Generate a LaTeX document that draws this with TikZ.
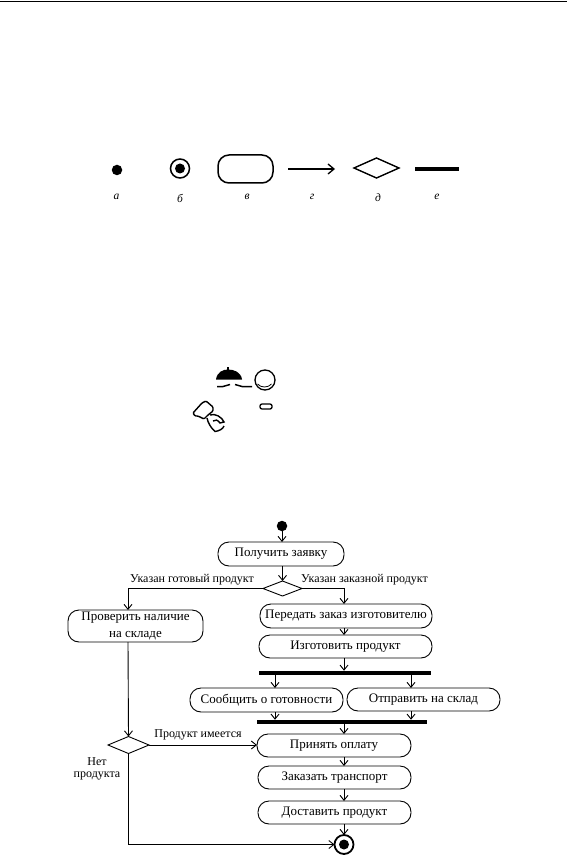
\documentclass[tikz,border=0pt]{standalone}
\usepackage{fontspec}
\setmainfont{Liberation Serif}
\usetikzlibrary{arrows.meta,shapes.geometric,calc}
\tikzset{
  x=1pt,y=-1pt,
  box/.style={draw,line width=0.9pt,rounded corners=11pt,inner sep=0pt,outer sep=0pt,align=center,font=\fontsize{13}{17}\selectfont},
  dec/.style={draw,diamond,aspect=2.4,line width=0.9pt,inner sep=0pt,outer sep=0pt},
  hbar/.style={fill=black,inner sep=0pt,outer sep=0pt},
  startdot/.style={circle,fill=black,inner sep=0pt,outer sep=0pt,minimum size=10.5pt},
  enddot/.style={circle,draw,line width=1.8pt,inner sep=0pt,outer sep=0pt,minimum size=19pt,path picture={\fill (path picture bounding box.center) circle (5pt);}},
  arr/.style={line width=0.9pt,-{Straight Barb[length=5pt,width=8pt,line width=0.9pt]}},
  lab/.style={font=\fontsize{12}{12.5}\selectfont,inner sep=0pt,align=center},
  captxt/.style={font=\fontsize{11.5}{12}\itshape\selectfont,inner sep=0pt}
}
\begin{document}
\begin{tikzpicture}
\useasboundingbox (0,0) rectangle (567,858);
\fill[white] (0,0) rectangle (567,858);
\draw[line width=0.9pt] (0,1) -- (567,1);
% legend
\node[startdot] (la) at (117,170) {};
\node[enddot,minimum size=19pt,line width=1.5pt] (lb) at (180,168.5) {};
\node[draw,line width=1.5pt,rounded corners=11pt,minimum width=55pt,minimum height=28pt,inner sep=0,outer sep=0] (lc) at (245.5,169) {};
\coordinate (lds) at (288,169);
\coordinate (lde) at (335,169);
\draw[line width=1.3pt,-{Straight Barb[length=6pt,width=10pt,line width=1.3pt]}] (lds) -- (lde);
\node[draw,diamond,aspect=2.25,line width=1.4pt,minimum width=45pt,minimum height=20pt,inner sep=0,outer sep=0] (le) at (376.5,168) {};
\node[hbar,minimum width=44pt,minimum height=3.5pt] (lf) at (437,169) {};
\node[captxt] (ca) at (116.5,197) {а};
\node[captxt] (cb) at (180,198) {б};
\node[captxt] (cc) at (247,197) {в};
\node[captxt] (cd) at (312,197) {г};
\node[captxt] (ce) at (378,198) {д};
\node[captxt] (cf) at (437,197) {е};
% pictograms
\fill (216,379.5) .. controls (217,372) and (223,369.5) .. (228,369.5) .. controls (234,369.5) and (241,372) .. (242,379.5) -- cycle;
\draw[line width=1.1pt] (228,370) -- (228,366.5);
\draw[line width=1.5pt] (217,386.5) -- (223,386.5) .. controls (226,386.5) and (227,384.5) .. (230,384.5);
\draw[line width=1.5pt] (252,386.5) -- (242,386.5) .. controls (239,386.5) and (238,384.5) .. (235,384.5);
\draw[line width=1.3pt] (265,380) circle (10);
\draw[line width=0.8pt] (257.5,384) .. controls (261,388) and (268,388) .. (271.5,384);
\draw[line width=1.3pt,rounded corners=2pt] (260,404) rectangle (272,409);
\draw[line width=1.4pt,rounded corners=1pt] (193,413) -- (202,403) -- (206,401) -- (213,407) -- (213,411) -- (208,415) -- (204,419) -- (200,417) -- (198,416) -- (195,416) -- cycle;
\draw[line width=1.4pt] (210,415) .. controls (215,413) and (222,417) .. (224,422) -- (220,423) .. controls (218,420) and (215,419) .. (213,421);
\draw[line width=1.4pt] (207,418) .. controls (208,423) and (211,428) .. (215,431.5) .. controls (219,431) and (223,429) .. (224,426);
% flowchart
\coordinate (colR) at (344,0);
\coordinate (colA) at (275,0);
\coordinate (colB) at (411,0);
\coordinate (colL) at (128,0);
\node[startdot] (st) at (282,526) {};
\node[box,minimum width=126pt,minimum height=24pt] (get) at (281,554) {Получить заявку};
\node[dec,minimum width=39pt,minimum height=15pt] (d1) at (282.5,588.5) {};
\node[box,minimum width=135pt,minimum height=32pt] (chk) at (135.5,626) {Проверить наличие\\на складе};
\node[box,minimum width=172pt,minimum height=24pt] (ord) at (346,616) {Передать заказ изготовителю};
\node[box,minimum width=173pt,minimum height=23pt] (mak) at (345.5,646.5) {Изготовить продукт};
\node[hbar,minimum width=172pt,minimum height=4.5pt] (b1) at (345,673) {};
\node[box,minimum width=153pt,minimum height=24pt] (say) at (266.5,700) {Сообщить о готовности};
\node[box,minimum width=153pt,minimum height=23pt] (snd) at (423.5,699.5) {Отправить на склад};
\node[hbar,minimum width=170pt,minimum height=4.5pt] (b2) at (342,722) {};
\node[box,minimum width=154pt,minimum height=23pt] (pay) at (334,745.5) {Принять оплату};
\node[box,minimum width=153pt,minimum height=23pt] (trn) at (334.5,777.5) {Заказать транспорт};
\node[box,minimum width=153pt,minimum height=23pt] (del) at (334.5,812.5) {Доставить продукт};
\node[dec,minimum width=41pt,minimum height=17pt] (d2) at (128.5,745) {};
\node[enddot] (en) at (344,844.5) {};
% connectors
\draw[arr] (st) -- (st |- get.north);
\draw[arr] (get.south -| d1.north) -- (d1.north);
\draw[arr] (d1.west) -| (chk.north -| colL);
\draw[arr] (d1.east) -| (ord.north -| colR);
\draw[arr] (ord.south -| colR) -- (mak.north -| colR);
\draw[arr] (mak.south -| colR) -- (b1.north -| colR);
\draw[arr] (b1.south -| colA) -- (say.north -| colA);
\draw[arr] (b1.south -| colB) -- (snd.north -| colB);
\draw[arr] (say.south -| colA) -- (b2.north -| colA);
\draw[arr] (snd.south -| colB) -- (b2.north -| colB);
\draw[arr] (b2.south -| colR) -- (pay.north -| colR);
\draw[arr] (pay.south -| colR) -- (trn.north -| colR);
\draw[arr] (trn.south -| colR) -- (del.north -| colR);
\draw[arr] (del.south -| colR) -- (en.north);
\draw[arr] (chk.south -| colL) -- (d2.north);
\draw[arr] (d2.east) -- (pay.west |- d2.east);
\draw[arr] (d2.south) |- (en.west);
% labels
\node[lab,anchor=base] (l1) at (192,582) {Указан готовый продукт};
\node[lab,anchor=base] (l2) at (364.5,582) {Указан заказной продукт};
\node[lab,anchor=base] (l3) at (198,737) {Продукт имеется};
\node[lab] (l4) at (97,769) {Нет\\продукта};
\end{tikzpicture}
\end{document}
